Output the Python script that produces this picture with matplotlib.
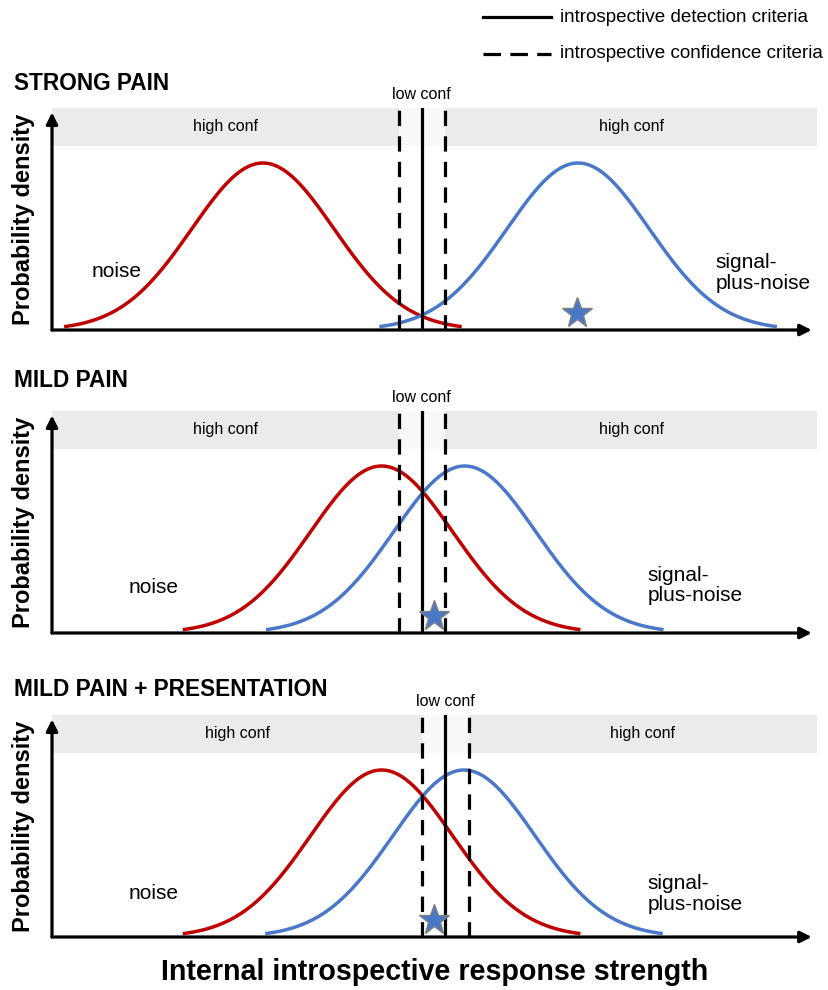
import numpy as np
import matplotlib
matplotlib.use("Agg")
import matplotlib.pyplot as plt
from matplotlib.lines import Line2D

plt.rcParams['font.family'] = ['Liberation Sans', 'DejaVu Sans']

# values (x in response-strength units, y as density relative to the peak)
titles = ["STRONG PAIN", "MILD PAIN", "MILD PAIN + PRESENTATION"]
noise_mean = [2.79, 4.36, 4.36]
signal_mean = [6.96, 5.46, 5.45]
sd = 0.94
half_span = 2.63
detection = [4.89, 4.89, 5.20]
conf_low = [4.59, 4.59, 4.90]
conf_high = [5.20, 5.20, 5.51]
star_x = [6.94, 5.05, 5.05]
star_y = [0.10, 0.10, 0.10]

RED = '#C00000'
BLUE = '#4A78C9'
W, H = 829, 990
xmax = 10.12
ytop = 222 / 167

# layout in pixels: baseline of each panel
baselines = [330, 633, 937]
title_y = [84, 381, 689]
noise_lbl = [(0.85, 0.353), (1.34, 0.275), (1.34, 0.263)]
signal_lbl = [(8.78, 0.34), (7.88, 0.284), (7.88, 0.257)]


def gauss(x, m):
    return np.exp(-0.5 * ((x - m) / sd) ** 2)


fig = plt.figure(figsize=(W / 100, H / 100), dpi=100)

for i in range(3):
    b = baselines[i]
    ax = fig.add_axes([52 / W, (H - b) / H, (817 - 52) / W, 222 / H])
    ax.set_xlim(0, xmax)
    ax.set_ylim(0, ytop)
    ax.axis('off')

    # confidence band
    ax.axvspan(0, conf_low[i], ymin=0.829, ymax=1, color='#EBEBEB', lw=0, zorder=0)
    ax.axvspan(conf_low[i], conf_high[i], ymin=0.829, ymax=1, color='#F8F8F8', lw=0, zorder=0)
    ax.axvspan(conf_high[i], xmax, ymin=0.829, ymax=1, color='#EBEBEB', lw=0, zorder=0)

    band_mid = ytop * (1 - 0.171 / 2)
    ax.text(conf_low[i] / 2, band_mid, "high conf", ha='center', va='center', fontsize=11.5)
    ax.text((conf_high[i] + xmax) / 2, band_mid, "high conf", ha='center', va='center', fontsize=11.5)
    ax.text(detection[i], ytop * 1.06, "low conf", ha='center', va='center', fontsize=11.5)

    # distributions
    xn = np.linspace(noise_mean[i] - half_span, noise_mean[i] + half_span, 300)
    xs = np.linspace(signal_mean[i] - half_span, signal_mean[i] + half_span, 300)
    ax.plot(xn, gauss(xn, noise_mean[i]), color=RED, lw=2.5, solid_capstyle='butt', zorder=2)
    ax.plot(xs, gauss(xs, signal_mean[i]), color=BLUE, lw=2.5, solid_capstyle='butt', zorder=2)

    # criteria
    ax.axvline(detection[i], color='k', lw=2.3, zorder=3)
    for c in (conf_low[i], conf_high[i]):
        ax.axvline(c, ymax=0.99, color='k', lw=2.3, ls=(0, (4.8, 3.2)), zorder=3)

    # axes arrows
    ax.annotate('', xy=(10.05, 0), xytext=(0, 0),
                arrowprops=dict(arrowstyle='-|>', color='k', lw=2.3, mutation_scale=17,
                                shrinkA=0, shrinkB=0), annotation_clip=False, zorder=4)
    ax.annotate('', xy=(0, ytop * 0.98), xytext=(0, 0),
                arrowprops=dict(arrowstyle='-|>', color='k', lw=2.3, mutation_scale=17,
                                shrinkA=0, shrinkB=0), annotation_clip=False, zorder=4)

    ax.plot(star_x[i], star_y[i], marker='*', ms=23, color=BLUE, mec='#808080', mew=1,
            zorder=5, clip_on=False)

    ax.text(noise_lbl[i][0], noise_lbl[i][1], "noise", ha='center', va='center', fontsize=15)
    ax.text(signal_lbl[i][0], signal_lbl[i][1], "signal-\nplus-noise", ha='left', va='center',
            fontsize=15, linespacing=1.1)

    ax.text(-(52 - 24) / 765, 0.5, "Probability density", transform=ax.transAxes,
            rotation=90, ha='center', va='center', fontsize=17, fontweight='bold')

    fig.text(14 / W, 1 - title_y[i] / H, titles[i], ha='left', va='center',
             fontsize=16.3, fontweight='bold')

fig.text(435 / W, 1 - 972 / H, "Internal introspective response strength", ha='center',
         va='center', fontsize=20.6, fontweight='bold')

# legend
fig.add_artist(Line2D([483 / W, 551 / W], [1 - 17 / H] * 2, color='k', lw=2.3))
fig.add_artist(Line2D([483 / W, 551 / W], [1 - 54 / H] * 2, color='k', lw=2.3,
                      ls=(0, (5.5, 2.9))))
fig.text(560 / W, 1 - 17 / H, "introspective detection criteria", ha='left', va='center',
         fontsize=13.6)
fig.text(560 / W, 1 - 54 / H, "introspective confidence criteria", ha='left', va='center',
         fontsize=13.6)

fig.savefig("out.png", dpi=100)
